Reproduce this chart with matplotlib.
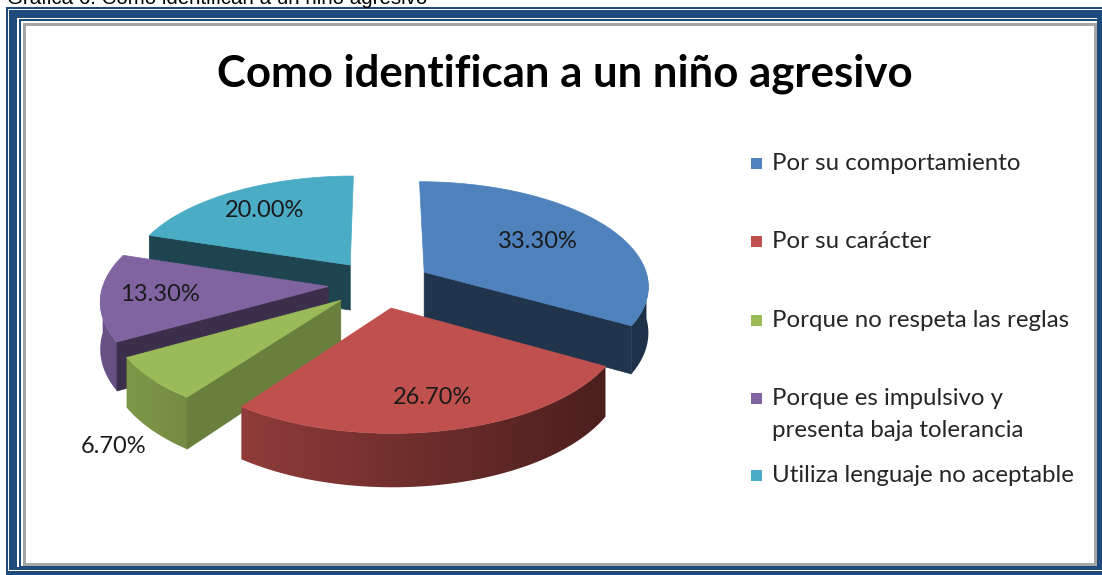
import numpy as np
import matplotlib.pyplot as plt
from matplotlib.patches import Polygon, Rectangle
from matplotlib.colors import to_rgb

plt.rcParams['font.family'] = ['Lato', 'DejaVu Sans']

# datos de la grafica
categorias = ['Por su comportamiento', 'Por su carácter', 'Porque no respeta las reglas',
              'Porque es impulsivo y\npresenta baja tolerancia', 'Utiliza lenguaje no aceptable']
porcentajes = [33.30, 26.70, 6.70, 13.30, 20.00]
etiquetas = ['33.30%', '26.70%', '6.70%', '13.30%', '20.00%']
colores = ['#4F81BD', '#C0504D', '#9BBB59', '#8064A2', '#4BACC6']

W, H = 1102, 575
fig = plt.figure(figsize=(W / 100, H / 100), dpi=100)
ax = fig.add_axes([0, 0, 1, 1])
ax.set_xlim(0, W)
ax.set_ylim(H, 0)
ax.axis('off')

# marco doble azul
navy = '#1F4A7C'
marco = [
    (6, 7, 1120, 600, navy),
    (7.5, 8.5, 1120, 571, 'white'),
    (8.5, 10, 1120, 570, navy),
    (16.5, 18, 1097, 567, 'white'),
    (18.5, 19, 1097, 567, navy),
    (21, 21, 1097, 566, 'white'),
    (23, 23, 1097, 566, '#A6A6A6'),
    (26, 26, 1094, 563, 'white'),
]
for x0, y0, x1, y1, c in marco:
    ax.add_patch(Rectangle((x0, y0), x1 - x0, y1 - y0, facecolor=c, edgecolor='none', zorder=0))

ax.text(7, 3.5, 'Gráfica 6. Como identifican a un niño agresivo', family='Liberation Sans',
        fontsize=14.8, color='black', va='baseline', ha='left', zorder=1)

ax.text(565, 86, 'Como identifican a un niño agresivo', fontsize=31.5, fontweight='bold',
        ha='center', va='baseline', color='black', zorder=5)

# pastel 3D
cx, cy = 380, 284
rx, ry = 225, 104
alto = 46
persp = 0.12
explota = 0.23
sombra_cara = [0.40, 0.40, 0.68, 0.47, 0.40]
pos_etiqueta = [(0.62, 0), (0.76, 0), (1.18, 1), (0.74, 0), (0.72, 0)]


def proyectar(X, Y, z):
    s = 1.0 / (1.0 + persp * Y)
    return cx + rx * X * s, cy - ry * Y * s + alto * z * s


def tono(c, f):
    r, g, b = to_rgb(c)
    return (min(r * f, 1), min(g * f, 1), min(b * f, 1))


fracs = np.array(porcentajes) / sum(porcentajes)
inicio = 90 - np.concatenate([[0], np.cumsum(fracs)[:-1]]) * 360
fin = inicio - fracs * 360

rebanadas = []
for i in range(len(porcentajes)):
    a2, a1 = np.radians(inicio[i]), np.radians(fin[i])
    mid = (a1 + a2) / 2
    ox, oy = explota * np.cos(mid), explota * np.sin(mid)
    rebanadas.append((oy, i, a1, a2, mid, ox))

# de atras hacia adelante
for oy, i, a1, a2, mid, ox in sorted(rebanadas, reverse=True):
    col = colores[i]
    zo = 2 + (0.5 - oy)
    t = np.linspace(a1, a2, 120)
    # lado curvo (solo la parte de enfrente) con degradado horizontal
    frente = t[np.sin(t) < 0]
    if len(frente) > 1:
        arriba = [proyectar(ox + np.cos(a), oy + np.sin(a), 0) for a in frente]
        abajo = [proyectar(ox + np.cos(a), oy + np.sin(a), 1) for a in frente[::-1]]
        lado = Polygon(arriba + abajo, closed=True, facecolor='none', edgecolor='none', zorder=zo)
        ax.add_patch(lado)
        xs = np.array([p[0] for p in arriba + abajo])
        ys = np.array([p[1] for p in arriba + abajo])
        x0, x1 = xs.min() - 1, xs.max() + 1
        y0, y1 = ys.min() - 1, ys.max() + 1
        cols = np.linspace(x0, x1, 200)
        ax_x = proyectar(ox, oy, 0)[0]
        xn = np.clip((cols - ax_x) / rx, -1, 1)
        f = 0.6 - 0.22 * xn
        base = np.array(to_rgb(col))
        img = np.clip(f[None, :, None] * base[None, None, :], 0, 1)
        im = ax.imshow(img, extent=(x0, x1, y1, y0), aspect='auto', zorder=zo,
                       interpolation='bilinear')
        im.set_clip_path(lado)
    # caras radiales
    for ang, normal in ((a2, a2 + np.pi / 2), (a1, a1 - np.pi / 2)):
        if np.sin(normal) > -0.05:
            continue
        pts = [proyectar(ox, oy, 0),
               proyectar(ox + np.cos(ang), oy + np.sin(ang), 0),
               proyectar(ox + np.cos(ang), oy + np.sin(ang), 1),
               proyectar(ox, oy, 1)]
        c = tono(col, sombra_cara[i])
        ax.add_patch(Polygon(pts, closed=True, facecolor=c, edgecolor=c, lw=0.5, zorder=zo + 0.01))
    # tapa
    pts = [proyectar(ox, oy, 0)] + [proyectar(ox + np.cos(a), oy + np.sin(a), 0) for a in t]
    ax.add_patch(Polygon(pts, closed=True, facecolor=col, edgecolor=col, lw=0.5, zorder=zo + 0.02))

ax.set_xlim(0, W)
ax.set_ylim(H, 0)

for i in range(len(porcentajes)):
    a2, a1 = np.radians(inicio[i]), np.radians(fin[i])
    mid = (a1 + a2) / 2
    r, z = pos_etiqueta[i]
    X = explota * np.cos(mid) + r * np.cos(mid)
    Y = explota * np.sin(mid) + r * np.sin(mid)
    px, py = proyectar(X, Y, z)
    ax.text(px, py, etiquetas[i], fontsize=17, ha='center', va='center', color='#1A1A1A', zorder=6)

# leyenda
ley_y = [163, 241, 320, 398, 475]
for i, nombre in enumerate(categorias):
    ax.add_patch(Rectangle((751, ley_y[i] - 5.5), 11, 11, facecolor=colores[i],
                           edgecolor='none', zorder=5))
    ax.text(772, ley_y[i] - 10, nombre, fontsize=17.3, ha='left', va='top',
            color='#262626', linespacing=1.65, zorder=5)

fig.savefig('out.png', dpi=100)
